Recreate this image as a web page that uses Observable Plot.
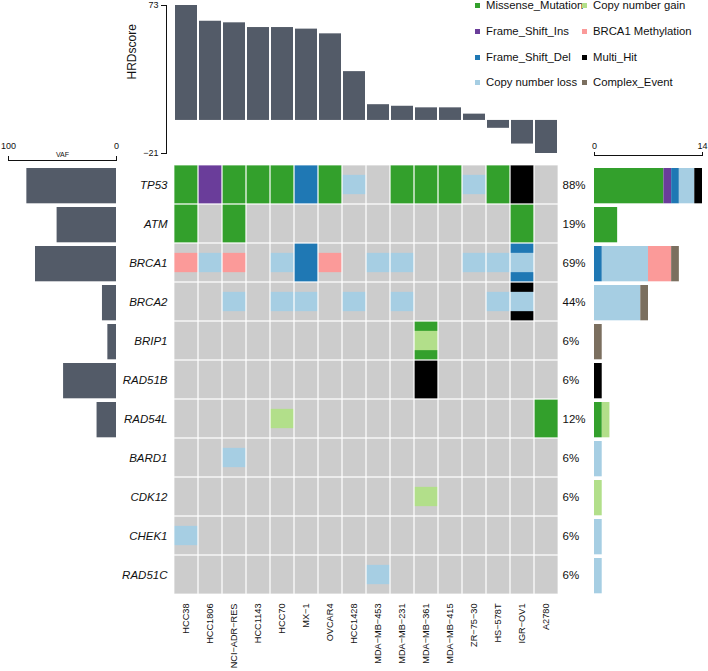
<!DOCTYPE html>
<html>
<head>
<meta charset="utf-8">
<script src="https://cdn.jsdelivr.net/npm/d3@7"></script>
<script src="https://cdn.jsdelivr.net/npm/@observablehq/plot@0.6"></script>
<style>
  body { margin: 0; background: #fff; }
  #chart { position: relative; width: 708px; height: 671px; overflow: hidden; font-family: "Liberation Sans", Arial, sans-serif; }
  #chart > svg { position: absolute; left: 0; top: 0; }
  .leg { position: absolute; height: 14px; display: flex; align-items: center; font-size: 11.3px; white-space: nowrap; color: #111; }
  .leg .sw { display: inline-block; width: 5px; height: 5px; margin-right: 6px; }
</style>
</head>
<body>
<div id="chart"></div>
<script>
// ---------- data ----------
const samples = ["HCC38","HCC1806","NCI-ADR-RES","HCC1143","HCC70","MX-1","OVCAR4","HCC1428",
                 "MDA-MB-453","MDA-MB-231","MDA-MB-361","MDA-MB-415","ZR-75-30","HS-578T","IGR-OV1","A2780"];
const hrdScore = [73, 63, 62, 59, 59, 58, 55, 31, 10, 9, 8, 8, 4, -5, -15, -21];
const genes = ["TP53","ATM","BRCA1","BRCA2","BRIP1","RAD51B","RAD54L","BARD1","CDK12","CHEK1","RAD51C"];
const vaf = [83, 55, 75, 13, 8, 49, 18, null, null, null, null];
const pctLabels = ["88%","19%","69%","44%","6%","6%","12%","6%","6%","6%","6%"];
const types = ["Missense_Mutation","Frame_Shift_Ins","Frame_Shift_Del","Copy number loss",
               "Copy number gain","BRCA1 Methylation","Multi_Hit","Complex_Event"];
const typeColors = ["#33a02c","#6a3d9a","#1f78b4","#a6cee3","#b2df8a","#fb9a99","#000000","#7b6f5f"];
const hrdTicks = [-21, 73];
const vafTicks = [0, 100];
const countTicks = [0, 14];

// full-cell alterations (mutations)
const mutations = [
  ["TP53","HCC38","Missense_Mutation"], ["TP53","HCC1806","Frame_Shift_Ins"],
  ["TP53","NCI-ADR-RES","Missense_Mutation"], ["TP53","HCC1143","Missense_Mutation"],
  ["TP53","HCC70","Missense_Mutation"], ["TP53","MX-1","Frame_Shift_Del"],
  ["TP53","OVCAR4","Missense_Mutation"], ["TP53","MDA-MB-231","Missense_Mutation"],
  ["TP53","MDA-MB-361","Missense_Mutation"], ["TP53","MDA-MB-415","Missense_Mutation"],
  ["TP53","HS-578T","Missense_Mutation"], ["TP53","IGR-OV1","Multi_Hit"],
  ["ATM","HCC38","Missense_Mutation"], ["ATM","NCI-ADR-RES","Missense_Mutation"], ["ATM","IGR-OV1","Missense_Mutation"],
  ["BRCA1","MX-1","Frame_Shift_Del"], ["BRCA1","IGR-OV1","Frame_Shift_Del"],
  ["BRCA2","IGR-OV1","Multi_Hit"],
  ["BRIP1","MDA-MB-361","Missense_Mutation"],
  ["RAD51B","MDA-MB-361","Multi_Hit"],
  ["RAD54L","A2780","Missense_Mutation"]
];
// half-height alterations (copy number / methylation)
const copyNumber = [
  ["TP53","HCC1428","Copy number loss"], ["TP53","ZR-75-30","Copy number loss"],
  ["BRCA1","HCC38","BRCA1 Methylation"], ["BRCA1","HCC1806","Copy number loss"],
  ["BRCA1","NCI-ADR-RES","BRCA1 Methylation"], ["BRCA1","HCC70","Copy number loss"],
  ["BRCA1","OVCAR4","BRCA1 Methylation"], ["BRCA1","MDA-MB-453","Copy number loss"],
  ["BRCA1","MDA-MB-231","Copy number loss"], ["BRCA1","ZR-75-30","Copy number loss"],
  ["BRCA1","HS-578T","Copy number loss"], ["BRCA1","IGR-OV1","Copy number loss"],
  ["BRCA2","NCI-ADR-RES","Copy number loss"], ["BRCA2","HCC70","Copy number loss"],
  ["BRCA2","MX-1","Copy number loss"], ["BRCA2","HCC1428","Copy number loss"],
  ["BRCA2","MDA-MB-231","Copy number loss"], ["BRCA2","HS-578T","Copy number loss"],
  ["BRCA2","IGR-OV1","Copy number loss"],
  ["BRIP1","MDA-MB-361","Copy number gain"],
  ["RAD54L","HCC70","Copy number gain"],
  ["BARD1","NCI-ADR-RES","Copy number loss"],
  ["CDK12","MDA-MB-361","Copy number gain"],
  ["CHEK1","HCC38","Copy number loss"],
  ["RAD51C","MDA-MB-453","Copy number loss"]
];

// ---------- derived tables ----------
const toRow = ([gene, sample, type]) => ({gene, sample, type});
const mutRows = mutations.map(toRow);
const cnRows = copyNumber.map(toRow);
const bgRows = d3.cross(genes, samples).map(([gene, sample]) => ({gene, sample}));
const hrdRows = samples.map((sample, i) => ({sample, score: hrdScore[i]}));
const vafRows = genes.map((gene, i) => ({gene, vaf: vaf[i]})).filter(d => d.vaf != null);
const pctRows = genes.map((gene, i) => ({gene, label: pctLabels[i]}));
const key = (g, s) => g + "|" + s;
const mutMap = new Map(mutations.map(([g, s, t]) => [key(g, s), t]));
const cnMap = new Map(copyNumber.map(([g, s, t]) => [key(g, s), t]));
const counts = [];
for (const g of genes) {
  const tally = new Map();
  for (const s of samples) {
    const m = mutMap.get(key(g, s)), c = cnMap.get(key(g, s));
    const t = m && c ? "Complex_Event" : (m || c);
    if (t) tally.set(t, (tally.get(t) || 0) + 1);
  }
  for (const [type, count] of tally) counts.push({gene: g, type, count});
}

const W = 708, H = 671;
const FONT = "'Liberation Sans', Arial, sans-serif";
const baseStyle = {fontFamily: FONT, background: "transparent", color: "#111", overflow: "visible"};
const barColor = "#535b68";
const fmtName = d => d.replace(/-/g, "\u2212");
const chart = document.getElementById("chart");

// main grid frame: x 172..560, y 163..596
const gridTop = 163, gridBottom = 596, gridLeft = 172, gridRight = 560;
const rowH = (gridBottom - gridTop) / genes.length;

// ---------- main oncoprint ----------
const main = Plot.plot({
  width: W, height: H,
  marginLeft: gridLeft, marginRight: W - gridRight, marginTop: gridTop, marginBottom: H - gridBottom,
  style: baseStyle,
  x: {type: "band", domain: samples, padding: 0},
  y: {type: "band", domain: genes, padding: 0},
  color: {domain: types, range: typeColors},
  marks: [
    Plot.cell(bgRows, {x: "sample", y: "gene", fill: "#cccccc", inset: 0}),
    Plot.cell(mutRows, {x: "sample", y: "gene", fill: "type", inset: 0}),
    Plot.cell(cnRows, {x: "sample", y: "gene", fill: "type", insetLeft: 0, insetRight: 0, insetTop: rowH / 4, insetBottom: rowH / 4}),
    Plot.cell(bgRows, {x: "sample", y: "gene", fill: "none", stroke: "white", strokeOpacity: 0.75, strokeWidth: 1, inset: 0}),
    Plot.axisX({anchor: "bottom", tickRotate: -90, tickSize: 0, tickPadding: 7, fontSize: 9.2, label: null, tickFormat: fmtName}),
    Plot.axisY({anchor: "left", tickSize: 0, tickPadding: 5, fontSize: 11.5, fontStyle: "italic", label: null})
  ]
});
chart.appendChild(main);

// ---------- top HRD score bars ----------
const hrd = Plot.plot({
  width: W, height: H,
  marginLeft: gridLeft, marginRight: W - gridRight, marginTop: 5, marginBottom: H - 153,
  style: baseStyle,
  x: {type: "band", domain: samples, padding: 0.1, axis: null},
  y: {domain: [-21, 73]},
  marks: [
    Plot.barY(hrdRows, {x: "sample", y: "score", fill: barColor}),
    Plot.axisY({ticks: hrdTicks, tickSize: 5, tickPadding: 3, dx: -6, fontSize: 9, label: null}),
    Plot.frame({anchor: "left", dx: -6}),
    Plot.text(["HRDscore"], {frameAnchor: "left", rotate: -90, dx: -40, fontSize: 12})
  ]
});
chart.appendChild(hrd);

// ---------- left VAF bars ----------
const vafPlot = Plot.plot({
  width: W, height: H,
  marginLeft: 8, marginRight: W - 116, marginTop: gridTop, marginBottom: H - gridBottom,
  style: baseStyle,
  x: {domain: [0, 100], reverse: true},
  y: {type: "band", domain: genes, padding: 0, axis: null},
  marks: [
    Plot.barX(vafRows, {y: "gene", x: "vaf", fill: barColor, insetTop: 3, insetBottom: 0.7}),
    Plot.axisX({anchor: "top", ticks: vafTicks, tickSize: 5, tickPadding: 7, dy: -3, fontSize: 9, label: null}),
    Plot.frame({anchor: "top", dy: -3}),
    Plot.text(["VAF"], {frameAnchor: "top", dy: -11, fontSize: 7})
  ]
});
chart.appendChild(vafPlot);

// ---------- right count bars ----------
const cnt = Plot.plot({
  width: W, height: H,
  marginLeft: 594, marginRight: W - 702, marginTop: gridTop, marginBottom: H - gridBottom,
  style: baseStyle,
  x: {domain: [0, 14]},
  y: {type: "band", domain: genes, padding: 0, axis: null},
  color: {domain: types, range: typeColors},
  marks: [
    Plot.barX(counts, Plot.stackX({order: types, y: "gene", x: "count", fill: "type", insetTop: 3, insetBottom: 0.7})),
    Plot.axisX({anchor: "top", ticks: countTicks, tickSize: 4, tickPadding: 3, dy: -8, fontSize: 9, label: null}),
    Plot.frame({anchor: "top", dy: -8}),
    Plot.text(pctRows, {y: "gene", text: "label", frameAnchor: "left", dx: -32, textAnchor: "start", fontSize: 11.5})
  ]
});
chart.appendChild(cnt);

// ---------- legend ----------
const legCols = [475, 582];
const legRows = [5, 31, 57, 82];
types.forEach((t, i) => {
  const col = Math.floor(i / 4), row = i % 4;
  const el = document.createElement("div");
  el.className = "leg";
  el.style.left = legCols[col] + "px";
  el.style.top = (legRows[row] - 7) + "px";
  el.innerHTML = `<span class="sw" style="background:${typeColors[i]}"></span><span>${t}</span>`;
  chart.appendChild(el);
});
</script>
</body>
</html>
